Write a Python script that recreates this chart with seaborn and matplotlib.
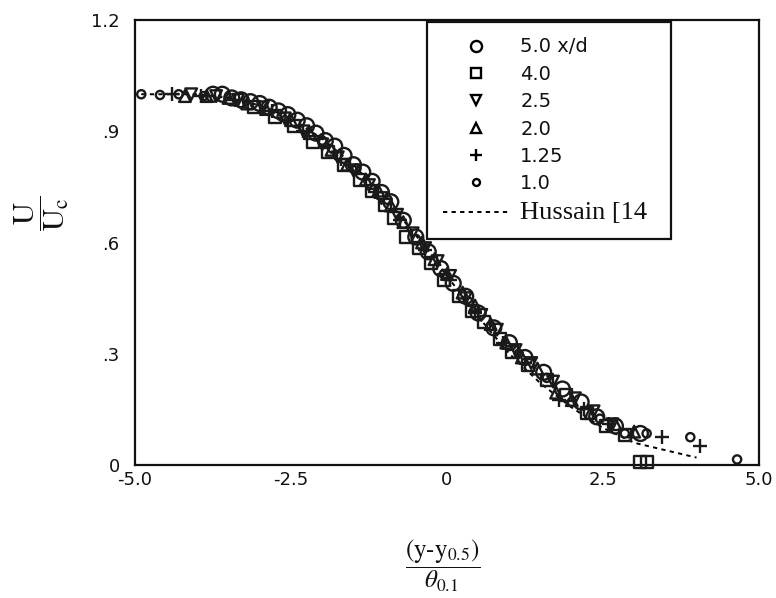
import matplotlib
matplotlib.use('Agg')
import matplotlib.pyplot as plt
import seaborn as sns
from matplotlib.lines import Line2D

sns.set_theme(style='white')
plt.rcParams['font.family'] = ['DejaVu Sans']
plt.rcParams['mathtext.fontset'] = 'stix'

# ---- data ----
x_50 = [-3.75, -3.6, -3.45, -3.3, -3.15, -3.0, -2.85, -2.7, -2.55, -2.4, -2.25, -2.1,
        -1.95, -1.8, -1.65, -1.5, -1.35, -1.2, -1.05, -0.9, -0.7, -0.5, -0.3, -0.1,
        0.1, 0.3, 0.5, 0.75, 1.0, 1.25, 1.55, 1.85, 2.15, 2.4, 2.7, 3.1]
y_50 = [1.0, 1.0, 0.99, 0.985, 0.98, 0.975, 0.965, 0.955, 0.945, 0.93, 0.915, 0.895,
        0.875, 0.86, 0.835, 0.81, 0.79, 0.765, 0.735, 0.71, 0.66, 0.615, 0.575, 0.53,
        0.49, 0.455, 0.41, 0.37, 0.33, 0.29, 0.25, 0.205, 0.17, 0.13, 0.105, 0.085]

x_40 = [-3.1, -2.75, -2.45, -2.15, -1.9, -1.65, -1.4, -1.2, -1.0, -0.85, -0.65, -0.45,
        -0.25, -0.05, 0.2, 0.4, 0.6, 0.85, 1.05, 1.3, 1.6, 1.9, 2.25, 2.55, 2.85, 3.1, 3.2]
y_40 = [0.965, 0.94, 0.915, 0.87, 0.845, 0.81, 0.77, 0.74, 0.70, 0.665, 0.615, 0.585,
        0.545, 0.50, 0.455, 0.415, 0.385, 0.34, 0.305, 0.27, 0.23, 0.19, 0.14, 0.105,
        0.08, 0.008, 0.008]

x_25 = [-4.1, -3.7, -3.35, -2.95, -2.6, -2.3, -2.0, -1.75, -1.5, -1.25, -1.05, -0.8,
        -0.55, -0.35, -0.15, 0.05, 0.3, 0.55, 0.8, 1.1, 1.35, 1.7, 2.05, 2.35, 2.65]
y_25 = [1.0, 0.995, 0.985, 0.965, 0.935, 0.9, 0.865, 0.83, 0.795, 0.755, 0.72, 0.675,
        0.625, 0.585, 0.55, 0.51, 0.45, 0.405, 0.365, 0.31, 0.275, 0.225, 0.18, 0.145, 0.11]

x_20 = [-4.2, -3.85, -3.5, -3.2, -2.9, -2.5, -2.2, -1.85, -1.6, -1.3, -1.1, -0.9, -0.7,
        -0.4, -0.2, 0.0, 0.25, 0.45, 0.7, 0.95, 1.2, 1.45, 1.75, 2.0, 2.3, 2.7, 3.0]
y_20 = [0.995, 0.995, 0.99, 0.975, 0.96, 0.93, 0.895, 0.85, 0.81, 0.77, 0.74, 0.70, 0.655,
        0.60, 0.555, 0.515, 0.465, 0.43, 0.38, 0.33, 0.29, 0.26, 0.195, 0.175, 0.14, 0.11, 0.09]

x_125 = [-4.4, -3.95, -3.4, -2.8, -2.3, -1.7, -1.15, -0.75, -0.35, 0.05, 0.45, 0.9,
         1.25, 1.8, 2.2, 2.6, 3.45, 4.05]
y_125 = [1.0, 0.995, 0.985, 0.955, 0.9, 0.825, 0.735, 0.66, 0.58, 0.50, 0.41, 0.33,
         0.275, 0.175, 0.15, 0.11, 0.075, 0.05]

x_10 = [-4.9, -4.6, -4.3, -3.9, -3.3, -2.65, -2.0, -1.45, -0.95, -0.5, -0.05, 0.35, 0.7,
        1.15, 1.6, 2.0, 2.45, 2.85, 3.2, 3.9, 4.65]
y_10 = [1.0, 0.998, 1.0, 0.995, 0.975, 0.94, 0.875, 0.8, 0.715, 0.61, 0.515, 0.44, 0.375,
        0.3, 0.235, 0.17, 0.125, 0.085, 0.085, 0.075, 0.015]

hus_x = [-4.9, -4.0, -3.5, -3.0, -2.5, -2.0, -1.5, -1.0, -0.5, 0.0, 0.5, 1.0, 1.5, 2.0,
         2.5, 3.0, 3.5, 4.0]
hus_y = [1.0, 1.0, 0.99, 0.97, 0.935, 0.88, 0.81, 0.72, 0.62, 0.51, 0.40, 0.30, 0.22,
         0.155, 0.10, 0.06, 0.04, 0.02]

labels = ['5.0 x/d', '4.0', '2.5', '2.0', '1.25', '1.0', 'Hussain [14']
x_ticks = [-5.0, -2.5, 0.0, 2.5, 5.0]
x_ticklabels = ['-5.0', '-2.5', '0', '2.5', '5.0']
y_ticks = [0.0, 0.3, 0.6, 0.9, 1.2]
y_ticklabels = ['0', '.3', '.6', '.9', '1.2']

# ---- figure ----
fig = plt.figure(figsize=(7.76, 5.98), dpi=100)
ax = fig.add_axes([0.174, 0.2224, 0.804, 0.744])

dash = (0, (2.2, 2.2))
sns.lineplot(x=hus_x, y=hus_y, ax=ax, color='black', linestyle=dash, lw=1.4,
             sort=False, estimator=None)

LW = 1.7
series = [
    (x_50, y_50, 'o', 115),
    (x_40, y_40, 's', 75),
    (x_25, y_25, 'v', 70),
    (x_20, y_20, '^', 70),
    (x_10, y_10, 'o', 35),
]
for xs, ys, m, s in series:
    sns.scatterplot(x=xs, y=ys, ax=ax, marker=m, s=s, facecolors='none',
                    edgecolor='#1a1a1a', linewidth=LW, legend=False, clip_on=False, zorder=3)
sns.scatterplot(x=x_125, y=y_125, ax=ax, marker='+', s=90, color='#1a1a1a',
                linewidth=LW, legend=False, clip_on=False, zorder=3)

ax.set_xlim(-5, 5)
ax.set_ylim(0, 1.2)
ax.set_xticks(x_ticks)
ax.set_xticklabels(x_ticklabels)
ax.set_yticks(y_ticks)
ax.set_yticklabels(y_ticklabels)
ax.tick_params(axis='both', length=0, labelsize=13, colors='#111111')
ax.tick_params(axis='y', pad=11)
ax.tick_params(axis='x', pad=4)
ax.set_xlabel('')
ax.set_ylabel('')
for sp in ax.spines.values():
    sp.set_color('#111111')
    sp.set_linewidth(1.6)

handles = [
    Line2D([], [], marker='o', ls='none', mfc='none', mec='black', ms=8, mew=LW),
    Line2D([], [], marker='s', ls='none', mfc='none', mec='black', ms=7, mew=LW),
    Line2D([], [], marker='v', ls='none', mfc='none', mec='black', ms=6.5, mew=LW),
    Line2D([], [], marker='^', ls='none', mfc='none', mec='black', ms=6.5, mew=LW),
    Line2D([], [], marker='+', ls='none', color='black', ms=8, mew=LW),
    Line2D([], [], marker='o', ls='none', mfc='none', mec='black', ms=5, mew=LW),
    Line2D([], [], color='black', ls=dash, lw=1.4),
]
leg = ax.legend(handles, labels, loc='upper left',
                bbox_to_anchor=(0.468, 0.51, 0.391, 0.486), mode='expand',
                borderaxespad=0, frameon=True, fancybox=False, framealpha=1,
                edgecolor='#111111', fontsize=14, handlelength=3.4,
                handletextpad=0.6, labelspacing=0.43, borderpad=0.8)
leg.get_frame().set_linewidth(1.6)
for t in leg.get_texts():
    t.set_color('#111111')
leg.get_texts()[-1].set_fontfamily(['Liberation Serif', 'DejaVu Serif'])
leg.get_texts()[-1].set_fontsize(19)

fig.text(42 / 776, 1 - 213 / 598, r'$\dfrac{\mathrm{U}}{\mathrm{U_c}}$', rotation=90,
         fontsize=22, ha='center', va='center', color='#111111')
fig.text(443 / 776, 1 - 566 / 598,
         r'$\dfrac{(\mathrm{y}\text{-}\mathrm{y}_{0.5})}{\theta_{0.1}}$',
         fontsize=18, ha='center', va='center', color='#111111')

fig.savefig('out.png', dpi=100, facecolor='white')
